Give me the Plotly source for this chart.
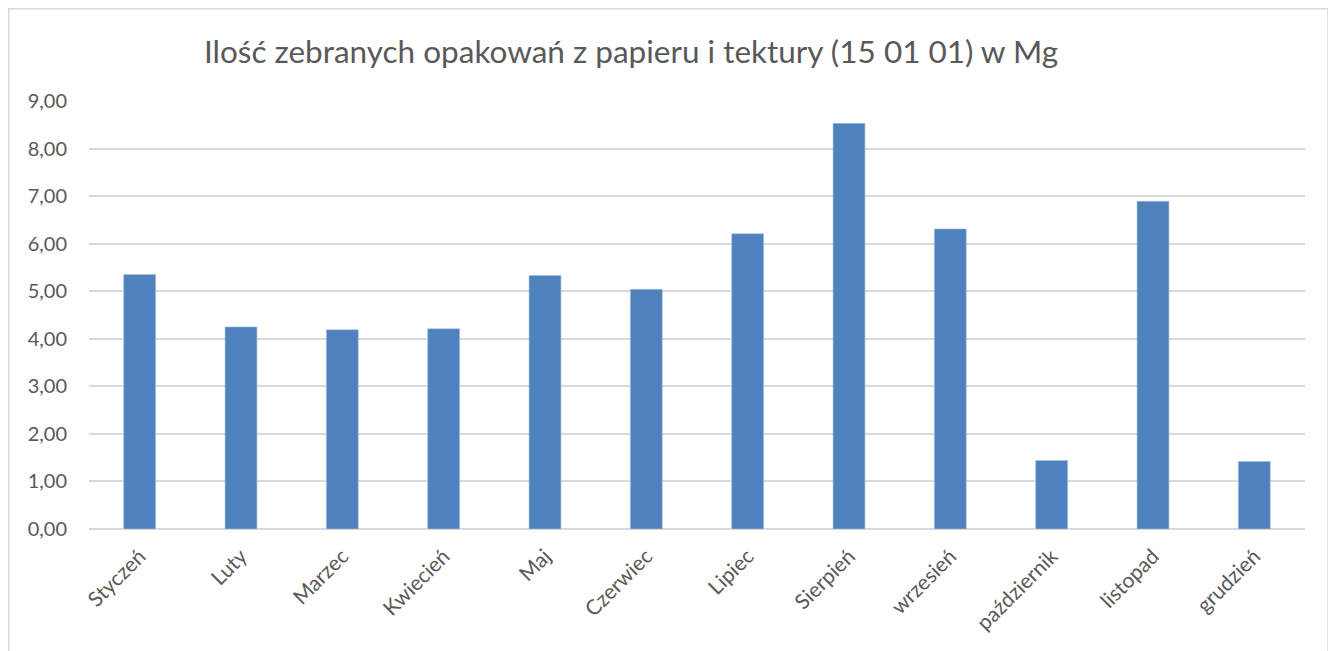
import plotly.graph_objects as go

months = ["Styczeń", "Luty", "Marzec", "Kwiecień", "Maj", "Czerwiec", "Lipiec",
          "Sierpień", "wrzesień", "październik", "listopad", "grudzień"]
values = [5.35, 4.25, 4.19, 4.21, 5.33, 5.04, 6.21, 8.53, 6.31, 1.44, 6.89, 1.42]
y_ticks = [0, 1, 2, 3, 4, 5, 6, 7, 8, 9]

title_text = "Ilość zebranych opakowań z papieru i tektury (15 01 01) w Mg"

fig = go.Figure(go.Bar(x=months, y=values, marker=dict(color="#4F81BD", line=dict(width=0.6, color="#A9C1E0"))))

OFF = 8  # page body offset
W, H = 1336 - OFF, 651 - OFF
# page coordinates of plot area
PL, PR, PT, PB = 89, 1305, 101, 529
l, r, t, b = PL - OFF, 1336 - PR, PT - OFF, 651 - PB
pw, ph = PR - PL, PB - PT

def px_x(x):
    return (x - PL) / pw

def px_y(y):
    return (PB - y) / ph

fig.update_layout(
    width=W, height=H,
    margin=dict(l=l, r=r, t=t, b=b),
    paper_bgcolor="white", plot_bgcolor="white",
    separators=", ",
    bargap=0.685,
    showlegend=False,
    font=dict(family="Lato, Open Sans, sans-serif", color="#595959"),
    title=dict(text=title_text, x=(631 - OFF) / W, xanchor="center", y=1 - (52 - OFF) / H, yanchor="middle",
               font=dict(size=31.5, color="#595959", family="Lato, Open Sans, sans-serif")),
    xaxis=dict(tickangle=-45, tickfont=dict(size=21, color="#595959"), showgrid=False,
               showline=False, ticks="", ticklen=0),
    yaxis=dict(range=[0, 9], tickvals=y_ticks, tickformat=".2f",
               tickfont=dict(size=20, color="#595959"),
               gridcolor="#D9D9D9", gridwidth=1.5, zeroline=True, zerolinecolor="#D9D9D9",
               zerolinewidth=1.5, showline=False, ticks="", ticklen=0),
    shapes=[dict(type="rect", xref="paper", yref="paper",
                 x0=px_x(OFF + 0.75), x1=px_x(1328), y0=px_y(660), y1=px_y(OFF + 0.75),
                 line=dict(color="#D9D9D9", width=1.5), fillcolor="rgba(0,0,0,0)", layer="below")],
)
try:
    fig.update_yaxes(ticklabelstandoff=21)
    fig.update_xaxes(ticklabelstandoff=10)
except Exception:
    pass

fig.write_html("out.html")
